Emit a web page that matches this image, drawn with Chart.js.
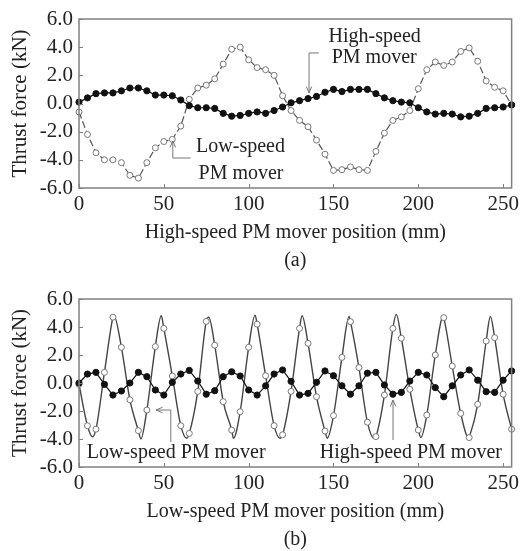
<!DOCTYPE html>
<html><head><meta charset="utf-8">
<script src="https://cdn.jsdelivr.net/npm/chart.js@4.4.1/dist/chart.umd.min.js"></script>
<style>
html,body{margin:0;padding:0;background:#fff;overflow:hidden;width:523px;height:551px}
canvas{position:absolute;left:0}
#c1{top:0}
#c2{top:276px}
</style></head><body>
<canvas id="c1" width="523" height="275"></canvas>
<canvas id="c2" width="523" height="278"></canvas>
<script>
// ---------- data: (a) vs high-speed PM mover position ----------
const posA = [0,5,10,15,20,25,30,35,40,45,50,55,60,65,70,75,80,85,90,95,100,105,110,115,120,125,130,135,140,145,150,155,160,165,170,175,180,185,190,195,200,205,210,215,220,225,230,235,240,245,250,255];
const highA = [0.1,0.4,0.7,0.75,0.75,0.9,1.1,1.1,0.9,0.6,0.6,0.55,0.25,-0.15,-0.3,-0.3,-0.35,-0.7,-0.9,-0.85,-0.7,-0.6,-0.7,-0.5,-0.25,0.05,0.2,0.35,0.5,0.8,1.0,0.85,1.0,1.0,1.0,0.7,0.4,0.2,0.1,0.05,-0.3,-0.6,-0.75,-0.7,-0.75,-0.95,-0.9,-0.7,-0.35,-0.3,-0.25,-0.1];
const lowA = [-0.6,-2.2,-3.5,-4.0,-4.0,-4.2,-5.1,-5.3,-4.2,-3.15,-2.7,-2.55,-1.6,0.3,1.1,1.3,1.75,2.8,3.85,4.0,3.1,2.55,2.4,2.0,0.55,-0.5,-1.2,-1.65,-2.6,-3.6,-4.75,-4.7,-4.5,-4.7,-4.75,-3.4,-2.1,-1.2,-0.95,-0.5,1.05,2.4,2.95,2.7,2.95,3.7,3.95,3.0,1.6,1.15,0.9,-0.1];

// ---------- data: (b) vs low-speed PM mover position ----------
const posB = [0,5,10,15,20,25,30,35,40,45,50,55,60,65,70,75,80,85,90,95,100,105,110,115,120,125,130,135,140,145,150,155,160,165,170,175,180,185,190,195,200,205,210,215,220,225,230,235,240,245,250,255];
const highB = [0.0,0.64,0.76,-0.1,-0.86,-0.57,0.0,0.76,0.45,-0.5,-0.86,0.05,0.64,0.9,0.14,-0.8,-0.55,0.45,0.8,0.5,-0.5,-0.86,-0.2,0.64,0.93,0.12,-0.86,-0.74,0.05,0.86,0.52,-0.2,-0.8,-0.2,0.7,0.76,-0.14,-0.8,-0.67,0.14,0.76,0.57,-0.33,-0.98,-0.2,0.57,0.93,0.2,-0.62,-0.67,0.2,0.86];
const lowB = [-0.1,-3.05,-3.3,0.76,4.7,2.55,-1.2,-3.4,-1.93,2.6,3.9,0.5,-3.05,-3.6,-0.6,4.4,2.7,-1.33,-3.36,-2.05,2.55,4.2,0.52,-3.05,-3.7,-0.6,3.9,2.83,-0.98,-3.43,-2.33,1.83,4.38,1.1,-2.8,-3.83,-0.86,3.9,3.2,-0.45,-3.36,-2.29,2.0,4.67,1.21,-2.17,-3.9,-1.52,3.0,3.24,-0.8,-3.3];
// extra peaks / troughs of the low-speed curve in (b) (no markers)
const lowBPeakX = [8,20.5,36.5,48.5,63.5,76.5,91,103.8,118.5,131.5,146.3,159.2,174,187,201.5,214.7,229.8,242.5];
const lowBPeakY = [-3.85,4.85,-4.0,4.8,-3.95,4.7,-3.95,4.85,-3.95,4.8,-3.95,4.75,-3.95,4.9,-3.9,4.75,-3.95,4.75];

const yTicks = [-6,-4,-2,0,2,4,6];
const xTicks = [0,50,100,150,200,250];

// ---------- helpers ----------
const FAM = "'Liberation Serif','Times New Roman',serif";
const TXT = '#222';
const pts = (xs, ys) => xs.map((x, i) => ({x, y: ys[i]}));
const lowBCurve = pts(posB, lowB).concat(pts(lowBPeakX, lowBPeakY)).sort((a, b) => a.x - b.x);

const framePlugin = {
  id: 'frame',
  afterDatasetsDraw(chart) {
    const {ctx, chartArea: a, scales: {x, y}} = chart;
    ctx.save();
    ctx.strokeStyle = '#808080';
    ctx.lineWidth = 1;
    x.ticks.forEach(t => {
      const px = Math.round(x.getPixelForValue(t.value)) + 0.5;
      ctx.beginPath(); ctx.moveTo(px, a.bottom); ctx.lineTo(px, a.bottom - 4); ctx.stroke();
    });
    y.ticks.forEach(t => {
      const py = Math.round(y.getPixelForValue(t.value)) + 0.5;
      ctx.beginPath(); ctx.moveTo(a.left, py); ctx.lineTo(a.left + 4, py); ctx.stroke();
    });
    ctx.lineWidth = 1.5;
    ctx.strokeRect(a.left, a.top, a.right - a.left, a.bottom - a.top);
    ctx.restore();
  }
};

const notesPlugin = {
  id: 'notes',
  afterDraw(chart, args, opts) {
    const {ctx, scales: {x, y}} = chart;
    ctx.save();
    ctx.fillStyle = TXT;
    ctx.font = '20px ' + FAM;
    ctx.textAlign = 'center';
    ctx.textBaseline = 'alphabetic';
    (opts.texts || []).forEach(t => {
      ctx.fillText(t.text, x.getPixelForValue(t.x), y.getPixelForValue(t.y));
    });
    ctx.strokeStyle = '#777';
    ctx.lineWidth = 1;
    (opts.arrows || []).forEach(ar => {
      const p = ar.map(q => [x.getPixelForValue(q[0]), y.getPixelForValue(q[1])]);
      ctx.beginPath();
      ctx.moveTo(p[0][0], p[0][1]);
      for (let i = 1; i < p.length; i++) ctx.lineTo(p[i][0], p[i][1]);
      ctx.stroke();
      const [ex, ey] = p[p.length - 1], [sx, sy] = p[p.length - 2];
      const ang = Math.atan2(ey - sy, ex - sx), L = 7, w = 0.4;
      ctx.beginPath();
      ctx.moveTo(ex - L * Math.cos(ang - w), ey - L * Math.sin(ang - w));
      ctx.lineTo(ex, ey);
      ctx.lineTo(ex - L * Math.cos(ang + w), ey - L * Math.sin(ang + w));
      ctx.stroke();
    });
    ctx.restore();
  }
};

function makeChart(id, datasets, xTitle, sub, notes, topPad) {
  return new Chart(document.getElementById(id), {
    type: 'line',
    data: {datasets},
    options: {
      responsive: false, animation: false, events: [],
      layout: {padding: {top: topPad, right: 6, left: 0, bottom: 0}},
      plugins: {legend: {display: false}, tooltip: {enabled: false}, notes},
      scales: {
        x: {
          type: 'linear', min: 0, max: 255,
          grid: {display: false, drawTicks: false}, border: {display: false},
          afterBuildTicks: s => { s.ticks = xTicks.map(v => ({value: v})); },
          ticks: {color: TXT, padding: 4, autoSkip: false, maxRotation: 0, font: {family: FAM, size: 21}},
          title: {display: true, text: [xTitle, sub], color: TXT,
                  font: {family: FAM, size: 20, lineHeight: 1.4}, padding: {top: 0, bottom: 0}},
          afterFit: s => { s.height = 87; }
        },
        y: {
          type: 'linear', min: -6, max: 6,
          grid: {display: false, drawTicks: false}, border: {display: false},
          afterBuildTicks: s => { s.ticks = yTicks.map(v => ({value: v})); },
          ticks: {color: TXT, padding: 6, autoSkip: false, font: {family: FAM, size: 21}, callback: v => v.toFixed(1)},
          title: {display: true, text: 'Thrust force (kN)', color: TXT,
                  font: {family: FAM, size: 21}, padding: {top: 8, bottom: 0}},
          afterFit: s => { s.width = 79; }
        }
      }
    },
    plugins: [framePlugin, notesPlugin]
  });
}

// (a)
makeChart('c1', [
  {data: pts(posA, highA), borderColor: '#111', borderWidth: 1.2, pointRadius: 3.1,
   pointBackgroundColor: '#111', pointBorderColor: '#111', pointBorderWidth: 1, tension: 0, clip: 8},
  {data: pts(posA, lowA), borderColor: '#555', borderWidth: 1.2, borderDash: [7, 3], pointRadius: 3,
   pointBackgroundColor: '#fff', pointBorderColor: '#777', pointBorderWidth: 1, tension: 0, clip: 8}
], 'High-speed PM mover position (mm)', '(a)', {
  texts: [
    {text: 'High-speed', x: 174.3, y: 4.39},
    {text: 'PM mover', x: 174.0, y: 2.85},
    {text: 'Low-speed', x: 95.2, y: -3.42},
    {text: 'PM mover', x: 95.5, y: -5.38}
  ],
  arrows: [
    [[141.4, 3.59], [135.6, 3.59], [135.6, 0.75]],
    [[65.8, -3.87], [55.3, -3.87], [55.3, -2.66]]
  ]
}, 19);

// (b)
makeChart('c2', [
  {data: pts(posB, highB), borderColor: '#111', borderWidth: 1.2, pointRadius: 3.1,
   pointBackgroundColor: '#111', pointBorderColor: '#111', pointBorderWidth: 1, tension: 0, clip: 8},
  {data: pts(posB, lowB), showLine: false, pointRadius: 3,
   pointBackgroundColor: '#fff', pointBorderColor: '#777', pointBorderWidth: 1, clip: 8},
  {data: lowBCurve, borderColor: '#444', borderWidth: 1.4, pointRadius: 0,
   cubicInterpolationMode: 'monotone', clip: 8}
], 'Low-speed PM mover position (mm)', '(b)', {
  texts: [
    {text: 'Low-speed PM mover', x: 57.3, y: -5.35},
    {text: 'High-speed PM mover', x: 195.6, y: -5.35}
  ],
  arrows: [
    [[54.1, -4.21], [54.1, -1.93], [45.4, -1.93]],
    [[185.1, -4.07], [185.1, -1.21]]
  ]
}, 23);
</script>
</body></html>
